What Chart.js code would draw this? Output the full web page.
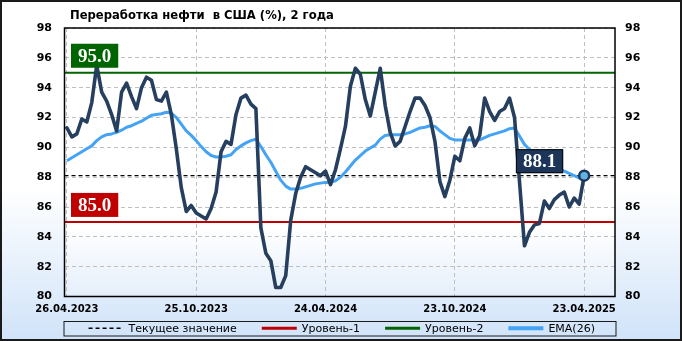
<!DOCTYPE html>
<html>
<head>
<meta charset="utf-8">
<script src="https://cdn.jsdelivr.net/npm/chart.js@4.4.1/dist/chart.umd.min.js"></script>
<style>
    html, body { margin: 0; padding: 0; background: #fff; }
    #wrap { width: 682px; height: 341px; }
</style>
</head>
<body>
<div id="wrap"><canvas id="refiningChart" width="682" height="341"></canvas></div>
<script>
// Переработка нефти в США (%), недельные значения 26.04.2023 – 23.04.2025
const refining = [
    91.3, 90.7, 90.9, 91.9, 91.7, 93.0, 95.5, 93.7, 93.1, 92.2,
    91.1, 93.7, 94.3, 93.4, 92.6, 94.0, 94.7, 94.5, 93.2, 93.1,
    93.7, 92.2, 89.9, 87.3, 85.7, 86.1, 85.6, 85.4, 85.2, 85.9,
    87.0, 89.7, 90.4, 90.2, 92.2, 93.3, 93.5, 92.9, 92.6, 84.6,
    82.9, 82.4, 80.6, 80.6, 81.4, 85.1, 86.9, 88.0, 88.7, 88.5,
    88.3, 88.1, 88.4, 87.5, 88.5, 89.9, 91.4, 94.1, 95.3, 94.9,
    93.2, 92.1, 93.7, 95.3, 92.8, 91.0, 90.1, 90.4, 91.4, 92.4,
    93.3, 93.3, 92.8, 92.0, 90.4, 87.7, 86.7, 87.8, 89.4, 89.1,
    90.6, 91.3, 90.1, 90.8, 93.3, 92.4, 91.8, 92.4, 92.6, 93.3,
    92.0, 87.7, 83.4, 84.3, 84.8, 84.9, 86.4, 85.9, 86.5, 86.8,
    87.0, 86.0, 86.6, 86.2, 88.1
];

// EMA(26)
const ema26 = [
    89.1, 89.3, 89.5, 89.7, 89.9, 90.1, 90.45, 90.7, 90.85, 90.9,
    91.0, 91.15, 91.35, 91.45, 91.6, 91.75, 91.95, 92.15, 92.2, 92.25,
    92.35, 92.3, 92.0, 91.55, 91.1, 90.8, 90.45, 90.05, 89.7, 89.45,
    89.35, 89.35, 89.4, 89.5, 89.85, 90.1, 90.3, 90.45, 90.55, 90.05,
    89.5, 89.0, 88.4, 87.8, 87.4, 87.2, 87.2, 87.25, 87.35, 87.45,
    87.55, 87.6, 87.65, 87.65, 87.75, 88.0, 88.35, 88.75, 89.15, 89.45,
    89.75, 89.95, 90.15, 90.55, 90.8, 90.85, 90.85, 90.85, 90.9, 91.0,
    91.15, 91.3, 91.35, 91.45, 91.4, 91.1, 90.85, 90.6, 90.5, 90.5,
    90.48, 90.5, 90.48, 90.5, 90.65, 90.8, 90.9, 91.0, 91.1, 91.25,
    91.3, 90.75, 90.2, 89.85, 89.6, 89.4, 89.2, 89.0, 88.8, 88.6,
    88.4, 88.25, 88.1, 87.95, 88.0
];

const tickWeeks = [0, 26, 52, 78, 104];
const tickLabels = ['26.04.2023', '25.10.2023', '24.04.2024', '23.10.2024', '23.04.2025'];

const level1 = 85.0;
const level2 = 95.0;
const currentValue = refining[refining.length - 1];

const xMin = -0.48;
const xMax = 110.2;
const yMin = 80;
const yMax = 98;

const chartTitle = 'Переработка нефти  в США (%), 2 года';

const COLORS = {
    main: '#263f5f',
    ema: '#45a3f5',
    level1: '#c00000',
    level2: '#006400',
    current: '#000000',
    grid: '#bfbfbf'
};

const weeks = refining.map((_, i) => i);
const toPoints = values => values.map((v, i) => ({ x: weeks[i], y: v }));
const flatLine = value => [{ x: xMin, y: value }, { x: xMax, y: value }];

function drawTag(ctx, text, left, bottom, fill, stroke) {
    ctx.font = 'bold 19px "Liberation Serif", "DejaVu Serif", serif';
    const w = ctx.measureText(text).width + 14;
    const h = 24;
    ctx.fillStyle = fill;
    ctx.fillRect(left, bottom - h, w, h);
    if (stroke) {
        ctx.strokeStyle = stroke;
        ctx.lineWidth = 1;
        ctx.strokeRect(left + 0.5, bottom - h + 0.5, w - 1, h - 1);
    }
    ctx.fillStyle = '#ffffff';
    ctx.textAlign = 'center';
    ctx.textBaseline = 'middle';
    ctx.fillText(text, left + w / 2, bottom - h / 2 + 1);
    return w;
}

const decor = {
    id: 'decor',
    beforeDraw(chart) {
        const { ctx, width, height, chartArea: a } = chart;
        ctx.save();
        let g = ctx.createLinearGradient(0, 0, 0, height);
        g.addColorStop(0, '#ffffff');
        g.addColorStop(0.55, '#ffffff');
        g.addColorStop(1, '#d0e3f9');
        ctx.fillStyle = g;
        ctx.fillRect(0, 0, width, height);

        g = ctx.createLinearGradient(0, a.top, 0, a.bottom);
        g.addColorStop(0, '#ffffff');
        g.addColorStop(0.74, '#ffffff');
        g.addColorStop(1, '#e5effb');
        ctx.fillStyle = g;
        ctx.fillRect(a.left, a.top, a.right - a.left, a.bottom - a.top);
        ctx.restore();
    },
    afterDraw(chart) {
        const { ctx, width, height, chartArea: a } = chart;
        const xs = chart.scales.x;
        const ys = chart.scales.y;
        ctx.save();

        // рамки
        ctx.strokeStyle = '#000';
        ctx.lineWidth = 1.5;
        ctx.strokeRect(a.left, a.top, a.right - a.left, a.bottom - a.top);
        ctx.lineWidth = 2;
        ctx.strokeStyle = '#1a1a1a';
        ctx.strokeRect(1, 1, width - 2, height - 2);

        // заголовок
        ctx.fillStyle = '#000';
        ctx.font = 'bold 11.6px "DejaVu Sans", sans-serif';
        ctx.textAlign = 'left';
        ctx.textBaseline = 'alphabetic';
        ctx.fillText(chartTitle, a.left + 5.5, 18.5);

        // подписи уровней
        drawTag(ctx, level2.toFixed(1), a.left + 6.5, ys.getPixelForValue(level2) - 5, COLORS.level2);
        drawTag(ctx, level1.toFixed(1), a.left + 6.5, ys.getPixelForValue(level1) - 5, COLORS.level1);

        ctx.font = 'bold 19px "Liberation Serif", "DejaVu Serif", serif';
        const tagW = ctx.measureText(currentValue.toFixed(1)).width + 14;
        const lastX = xs.getPixelForValue(weeks[weeks.length - 1]);
        drawTag(ctx, currentValue.toFixed(1), lastX - 21 - tagW, ys.getPixelForValue(currentValue) - 2.5, '#1c3558', '#0a0a0a');

        // легенда
        const items = [2, 3, 4, 1].map(i => chart.data.datasets[i]);
        ctx.font = '11px "DejaVu Sans", sans-serif';
        const lineLen = 35, gapText = 5, gapItem = 25;
        const widths = items.map(d => lineLen + gapText + ctx.measureText(d.label).width);
        const total = widths.reduce((s, w) => s + w, 0) + gapItem * (items.length - 1);
        const boxTop = 321, boxBottom = 335.5;
        const cy = (boxTop + boxBottom) / 2;
        let x = (a.left + a.right) / 2 - total / 2 + 2;
        items.forEach((d, k) => {
            ctx.beginPath();
            ctx.setLineDash(d.borderDash || []);
            ctx.strokeStyle = d.borderColor;
            ctx.lineWidth = d.legendWidth || d.borderWidth;
            ctx.moveTo(x, cy);
            ctx.lineTo(x + lineLen, cy);
            ctx.stroke();
            ctx.setLineDash([]);
            ctx.fillStyle = '#000';
            ctx.textAlign = 'left';
            ctx.textBaseline = 'middle';
            ctx.fillText(d.label, x + lineLen + gapText, cy + 0.5);
            x += widths[k] + gapItem;
        });
        ctx.strokeStyle = '#1a1a1a';
        ctx.lineWidth = 1;
        ctx.strokeRect(a.left - 0.5, boxTop + 0.5, a.right - a.left + 1.5, boxBottom - boxTop);

        ctx.restore();
    }
};

const tickFont = { family: '"DejaVu Sans", sans-serif', size: 11, weight: 'bold' };

new Chart(document.getElementById('refiningChart'), {
    type: 'line',
    data: {
        datasets: [
            {
                label: 'Переработка нефти',
                data: toPoints(refining),
                borderColor: COLORS.main,
                borderWidth: 3.6,
                borderJoinStyle: 'round',
                borderCapStyle: 'round',
                tension: 0,
                pointRadius: ctx => (ctx.dataIndex === refining.length - 1 ? 5 : 0),
                pointBackgroundColor: '#62b2e6',
                pointBorderColor: '#1c3558',
                pointBorderWidth: 2.5
            },
            {
                label: 'EMA(26)',
                data: toPoints(ema26),
                borderColor: COLORS.ema,
                borderWidth: 3,
                legendWidth: 4,
                borderJoinStyle: 'round',
                tension: 0,
                pointRadius: 0
            },
            {
                label: 'Текущее значение',
                data: flatLine(currentValue),
                borderColor: COLORS.current,
                borderWidth: 1.3,
                borderDash: [4, 3],
                pointRadius: 0
            },
            {
                label: 'Уровень-1',
                data: flatLine(level1),
                borderColor: COLORS.level1,
                borderWidth: 2,
                legendWidth: 3,
                pointRadius: 0
            },
            {
                label: 'Уровень-2',
                data: flatLine(level2),
                borderColor: COLORS.level2,
                borderWidth: 2,
                legendWidth: 3,
                pointRadius: 0
            }
        ]
    },
    options: {
        responsive: false,
        animation: false,
        devicePixelRatio: 1,
        events: [],
        layout: { padding: { top: 28, bottom: 24.5, left: 0, right: 0 } },
        plugins: {
            legend: { display: false },
            title: { display: false },
            tooltip: { enabled: false }
        },
        scales: {
            x: {
                type: 'linear',
                min: xMin,
                max: xMax,
                afterBuildTicks: axis => { axis.ticks = tickWeeks.map(v => ({ value: v })); },
                afterFit: axis => { axis.height = 20; },
                grid: { color: COLORS.grid, drawTicks: false },
                border: { display: false, dash: [4, 3] },
                ticks: {
                    autoSkip: false,
                    maxRotation: 0,
                    padding: 6.5,
                    color: '#000',
                    font: { family: '"DejaVu Sans", sans-serif', size: 10, weight: 'bold' },
                    callback: (value, index) => tickLabels[index]
                }
            },
            y: {
                type: 'linear',
                position: 'left',
                min: yMin,
                max: yMax,
                afterFit: axis => { axis.width = 64.5; },
                grid: { color: COLORS.grid, drawTicks: false },
                border: { display: false, dash: [4, 3] },
                ticks: { stepSize: 2, padding: 12.5, color: '#000', font: tickFont }
            },
            y1: {
                type: 'linear',
                position: 'right',
                min: yMin,
                max: yMax,
                afterFit: axis => { axis.width = 67; },
                grid: { display: false, drawTicks: false },
                border: { display: false },
                ticks: { stepSize: 2, padding: 10, color: '#000', font: tickFont }
            }
        }
    },
    plugins: [decor]
});
</script>
</body>
</html>
